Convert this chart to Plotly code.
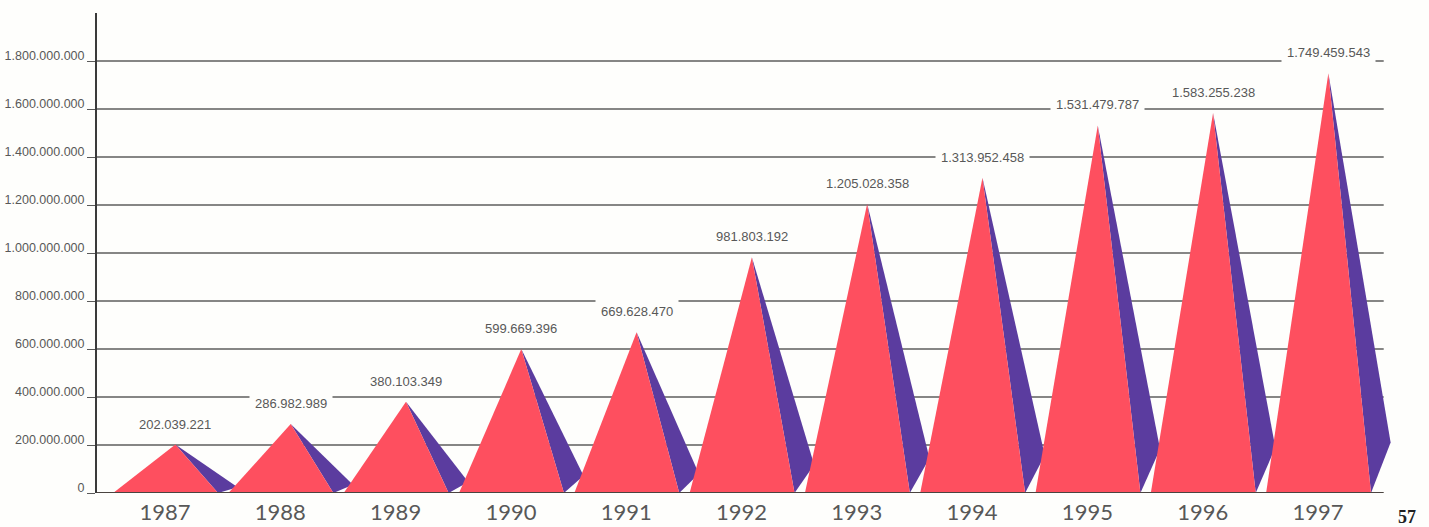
import plotly.graph_objects as go

# Annual totals, 1987-1997
years = ["1987", "1988", "1989", "1990", "1991", "1992",
         "1993", "1994", "1995", "1996", "1997"]
values = [202039221, 286982989, 380103349, 599669396, 669628470, 981803192,
          1205028358, 1313952458, 1531479787, 1583255238, 1749459543]
y_ticks = [0, 200_000_000, 400_000_000, 600_000_000, 800_000_000,
           1_000_000_000, 1_200_000_000, 1_400_000_000, 1_600_000_000,
           1_800_000_000]

RED = "#fe4f5f"
PURPLE = "#5b3c9f"
BG = "#fefefc"
INK = "#585858"
LABEL_FONT = "Liberation Sans, Arial, sans-serif"

# pyramid geometry, in category units relative to each year's slot
PEAK_DX = 0.09      # apex sits slightly right of the year label
LEFT_W = 0.54       # front face, left half of the base
RIGHT_W = 0.37      # front face, right half of the base
SIDE_W = 0.54       # side face reaches further right
SIDE_RISE = 0.12    # side face's far corner lifted by this share of the height

X_MIN, X_MAX = -0.59, 10.72   # plotting window
GRID_END = 10.57              # rules stop short of the last side face

fig = go.Figure()

# horizontal rules at each tick, behind the pyramids
for t in y_ticks[1:]:
    fig.add_shape(type="line", xref="x", yref="y", x0=X_MIN, x1=GRID_END, y0=t, y1=t,
                  line=dict(color="#5e5e5e", width=1.3), layer="below")

for i, (yr, v) in enumerate(zip(years, values)):
    xp = i + PEAK_DX
    # shaded side face
    fig.add_trace(go.Scatter(
        x=[xp, xp + RIGHT_W, xp + SIDE_W, xp],
        y=[v, 0, v * SIDE_RISE, v],
        fill="toself", fillcolor=PURPLE, mode="lines",
        line=dict(width=0, color=PURPLE), hoverinfo="skip", showlegend=False,
    ))
    # lit front face
    fig.add_trace(go.Scatter(
        x=[xp - LEFT_W, xp, xp + RIGHT_W, xp - LEFT_W],
        y=[0, v, 0, 0],
        fill="toself", fillcolor=RED, mode="lines",
        line=dict(width=0, color=RED), hoverinfo="skip", showlegend=False,
    ))
    # value label above the apex, masking the rule behind it
    fig.add_annotation(
        x=xp, y=v, xref="x", yref="y",
        text=f"{v:,}".replace(",", "."),
        showarrow=False, yanchor="bottom", yshift=7,
        bgcolor=BG, borderpad=5,
        font=dict(family=LABEL_FONT, size=13, color=INK),
    )

# baseline
fig.add_shape(type="line", xref="x", yref="y", x0=X_MIN, x1=GRID_END, y0=0, y1=0,
              line=dict(color="#4a4440", width=2), layer="above")

# page number
fig.add_annotation(
    x=1.0, y=0, xref="paper", yref="paper", xanchor="center", yanchor="middle",
    xshift=6, yshift=-24, text="<b>57</b>", showarrow=False,
    font=dict(family="Liberation Serif, serif", size=18, color="#222"),
)

fig.update_layout(
    width=1429, height=527,
    margin=dict(l=97, r=28, t=13, b=34, autoexpand=False),
    paper_bgcolor=BG, plot_bgcolor=BG,
    separators=",.",
    xaxis=dict(
        range=[X_MIN, X_MAX], automargin=False,
        tickmode="array", tickvals=list(range(len(years))), ticktext=years,
        showgrid=False, zeroline=False, showline=False,
        ticks="", ticklabelstandoff=4,
        tickfont=dict(family="Lato, Open Sans, sans-serif", size=22, color=INK),
    ),
    yaxis=dict(
        range=[0, 2_000_000_000], automargin=False,
        tickmode="array", tickvals=y_ticks, tickformat=",d",
        showgrid=False, zeroline=False,
        showline=True, linecolor="#3a3a3a", linewidth=2,
        ticks="outside", ticklen=8, tickcolor="#5a5a5a", tickwidth=1,
        ticklabelstandoff=0, ticklabelshift=-5,
        tickfont=dict(family=LABEL_FONT, size=12.5, color=INK),
    ),
)

fig.write_html("out.html")
